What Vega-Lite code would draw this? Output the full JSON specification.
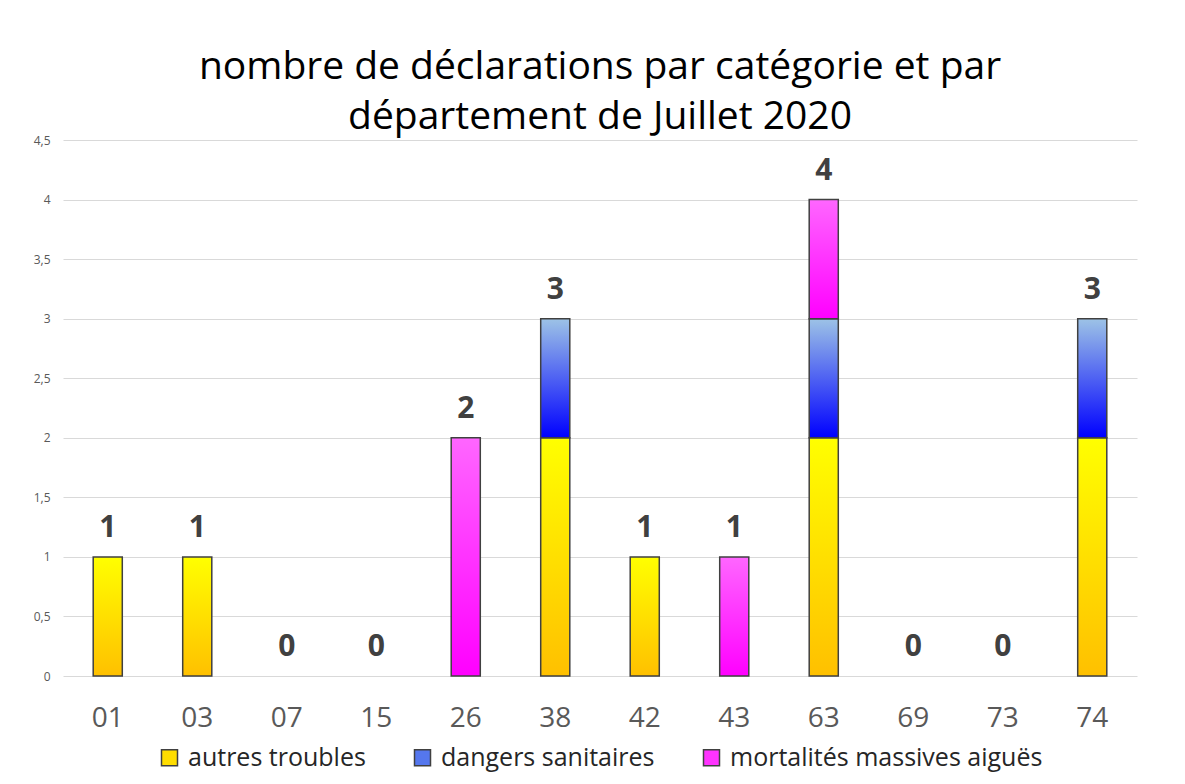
{
  "$schema": "https://vega.github.io/schema/vega-lite/v6.json",
  "width": 1074,
  "height": 536,
  "autosize": {"type": "none"},
  "padding": {"left": 63, "top": 140, "right": 48, "bottom": 108},
  "background": "white",
  "config": {
    "view": {"stroke": null},
    "legend": {"layout": {"bottom": {"anchor": "middle"}}}
  },
  "title": {
    "text": ["nombre de déclarations par catégorie et par", "département de Juillet 2020"],
    "fontSize": 39,
    "font": "Open Sans",
    "fontWeight": "normal",
    "color": "#000000",
    "lineHeight": 50,
    "offset": -3,
    "anchor": "middle"
  },
  "data": {
    "values": [
      {"dept": "01", "categorie": "autres troubles", "n": 1},
      {"dept": "03", "categorie": "autres troubles", "n": 1},
      {"dept": "07", "categorie": "autres troubles", "n": 0},
      {"dept": "15", "categorie": "autres troubles", "n": 0},
      {"dept": "26", "categorie": "mortalités massives aiguës", "n": 2},
      {"dept": "38", "categorie": "autres troubles", "n": 2},
      {"dept": "38", "categorie": "dangers sanitaires", "n": 1},
      {"dept": "42", "categorie": "autres troubles", "n": 1},
      {"dept": "43", "categorie": "mortalités massives aiguës", "n": 1},
      {"dept": "63", "categorie": "autres troubles", "n": 2},
      {"dept": "63", "categorie": "dangers sanitaires", "n": 1},
      {"dept": "63", "categorie": "mortalités massives aiguës", "n": 1},
      {"dept": "69", "categorie": "autres troubles", "n": 0},
      {"dept": "73", "categorie": "autres troubles", "n": 0},
      {"dept": "74", "categorie": "autres troubles", "n": 2},
      {"dept": "74", "categorie": "dangers sanitaires", "n": 1}
    ]
  },
  "encoding": {
    "x": {
      "field": "dept",
      "type": "nominal",
      "sort": null,
      "title": null,
      "scale": {
        "domain": ["01", "03", "07", "15", "26", "38", "42", "43", "63", "69", "73", "74"],
        "paddingInner": 0.675,
        "paddingOuter": 0.3375
      },
      "axis": {
        "labelAngle": 0,
        "labelFont": "Open Sans",
        "labelFontSize": 28,
        "labelColor": "#595959",
        "labelPadding": 28,
        "domain": false,
        "ticks": false,
        "grid": false
      }
    }
  },
  "layer": [
    {
      "transform": [{"filter": "datum.n < 0"}],
      "mark": {"type": "bar", "stroke": "#404040", "strokeWidth": 1.5},
      "encoding": {
        "y": {
          "field": "n",
          "type": "quantitative",
          "title": null,
          "scale": {"domain": [0, 4.5], "nice": false},
          "axis": {
            "values": [0, 0.5, 1, 1.5, 2, 2.5, 3, 3.5, 4, 4.5],
            "labelExpr": "replace(toString(datum.value), '.', ',')",
            "labelFont": "Open Sans",
            "labelFontSize": 12,
            "labelColor": "#595959",
            "labelPadding": 13,
            "domain": false,
            "ticks": false,
            "gridColor": "#d9d9d9",
            "gridWidth": 1.2
          }
        },
        "color": {
          "field": "categorie",
          "type": "nominal",
          "title": null,
          "scale": {
            "domain": ["autres troubles", "dangers sanitaires", "mortalités massives aiguës"],
            "range": ["#FFDD00", "#5577EE", "#FF33FF"]
          },
          "legend": {
            "orient": "bottom",
            "direction": "horizontal",
            "symbolType": "square",
            "symbolSize": 256,
            "symbolStrokeColor": "#404040",
            "symbolStrokeWidth": 1.5,
            "labelFont": "Open Sans",
            "labelFontSize": 25,
            "labelColor": "#262626",
            "labelOffset": 6,
            "columnPadding": 44,
            "offset": 13,
            "labelLimit": 450
          }
        }
      }
    },
    {
      "transform": [
        {"filter": "datum.n > 0"},
        {"stack": "n", "groupby": ["dept"], "sort": [{"field": "categorie", "order": "ascending"}], "as": ["y0", "y1"]},
        {"filter": "datum.categorie == 'autres troubles'"}
      ],
      "mark": {
        "type": "bar", "stroke": "#404040", "strokeWidth": 1.5,
        "color": {"gradient": "linear", "x1": 0, "y1": 1, "x2": 0, "y2": 0, "stops": [{"offset": 0, "color": "#FFC000"}, {"offset": 1, "color": "#FFFF00"}]}
      },
      "encoding": {
        "y": {"field": "y1", "type": "quantitative"},
        "y2": {"field": "y0"}
      }
    },
    {
      "transform": [
        {"filter": "datum.n > 0"},
        {"stack": "n", "groupby": ["dept"], "sort": [{"field": "categorie", "order": "ascending"}], "as": ["y0", "y1"]},
        {"filter": "datum.categorie == 'dangers sanitaires'"}
      ],
      "mark": {
        "type": "bar", "stroke": "#404040", "strokeWidth": 1.5,
        "color": {"gradient": "linear", "x1": 0, "y1": 1, "x2": 0, "y2": 0, "stops": [{"offset": 0, "color": "#0000FF"}, {"offset": 1, "color": "#9DC3E6"}]}
      },
      "encoding": {
        "y": {"field": "y1", "type": "quantitative"},
        "y2": {"field": "y0"}
      }
    },
    {
      "transform": [
        {"filter": "datum.n > 0"},
        {"stack": "n", "groupby": ["dept"], "sort": [{"field": "categorie", "order": "ascending"}], "as": ["y0", "y1"]},
        {"filter": "datum.categorie == 'mortalités massives aiguës'"}
      ],
      "mark": {
        "type": "bar", "stroke": "#404040", "strokeWidth": 1.5,
        "color": {"gradient": "linear", "x1": 0, "y1": 1, "x2": 0, "y2": 0, "stops": [{"offset": 0, "color": "#FF00FF"}, {"offset": 1, "color": "#FF66FF"}]}
      },
      "encoding": {
        "y": {"field": "y1", "type": "quantitative"},
        "y2": {"field": "y0"}
      }
    },
    {
      "mark": {"type": "text", "font": "Open Sans", "fontWeight": "bold", "fontSize": 30, "color": "#404040", "baseline": "alphabetic", "dy": -20},
      "encoding": {
        "y": {"aggregate": "sum", "field": "n", "type": "quantitative"},
        "text": {"aggregate": "sum", "field": "n", "type": "quantitative"}
      }
    }
  ]
}
